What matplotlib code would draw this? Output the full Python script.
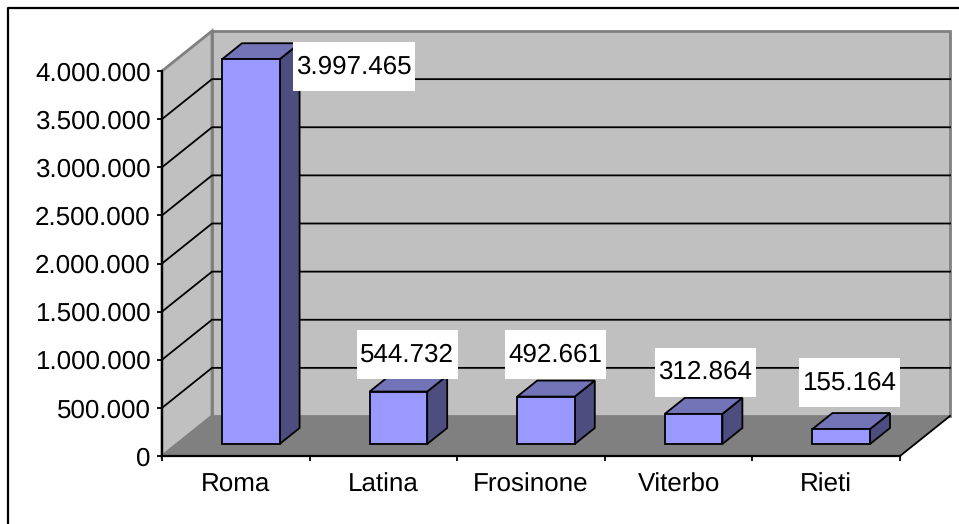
import matplotlib
matplotlib.use('Agg')
import numpy as np
import matplotlib.pyplot as plt
from matplotlib.lines import Line2D
from matplotlib.patches import Polygon, Rectangle

plt.rcParams['font.family'] = ['Liberation Sans', 'DejaVu Sans']
plt.rcParams['text.hinting'] = 'none'
plt.rcParams['text.hinting_factor'] = 1

# Data
provinces = ['Roma', 'Latina', 'Frosinone', 'Viterbo', 'Rieti']
population = [3997465, 544732, 492661, 312864, 155164]
value_labels = ['3.997.465', '544.732', '492.661', '312.864', '155.164']
y_ticks = [0, 500000, 1000000, 1500000, 2000000, 2500000, 3000000, 3500000, 4000000]
y_labels = ['0', '500.000', '1.000.000', '1.500.000', '2.000.000', '2.500.000', '3.000.000', '3.500.000', '4.000.000']

# Label offsets from the top centre of each bar and box widths, in pixels
label_dx = [103.5, 9, 9.5, 11.5, 8]
label_dy = [-7.3, 37, 42, 41.5, 46.5]
box_widths = [122, 101, 101, 101, 101]

W, H = 959, 524
fig = plt.figure(figsize=(W / 100, H / 100), dpi=100)
ax = fig.add_axes([162 / W, (H - 456) / H, (900 - 162) / W, 385 / H])
ax.set_xlim(0, 5)
ax.set_ylim(0, 4000000)

# Pixel sizes in data units, and the depth of the 3D box
PX = 5 / 738
PY = 4000000 / 385
DX = 50 * PX
DY = 40 * PY
GRAY = '#808080'
FONT = 18.6


def add_poly(points, color, edge='none', lw=0, z=1):
    ax.add_patch(Polygon(points, closed=True, facecolor=color, edgecolor=edge,
                         linewidth=lw, clip_on=False, zorder=z, joinstyle='miter'))


# Walls and floor
add_poly([(DX, DY), (5 + DX, DY), (5 + DX, 4000000 + DY), (DX, 4000000 + DY)], '#C0C0C0', GRAY, 2, 1)
add_poly([(0, 0), (DX, DY), (DX, 4000000 + DY), (0, 4000000)], '#C0C0C0', GRAY, 2, 1)
add_poly([(0, 0), (5, 0), (5 + DX, DY), (DX, DY)], GRAY, z=1.5)

# Gridlines
for t in y_ticks[1:-1]:
    ax.plot([0, DX, 5 + DX], [t, t + DY, t + DY], color='black', lw=1.3, clip_on=False, zorder=2)
ax.plot([5, 5 + DX], [0, DY], color='black', lw=1.3, clip_on=False, zorder=2)

# Bars: front through ax.bar, side and top as polygons
x = np.arange(len(provinces)) + 0.5
vals = np.array(population)
width = 0.39
front_x = x + 0.3 * DX
base = 0.3 * DY
bar_dx = 20 * PX
bar_dy = 16 * PY
ax.bar(front_x, vals, width=width, bottom=base, color='#9999FF', edgecolor='black',
       linewidth=1.3, zorder=4, clip_on=False)
for cx, v in zip(front_x, vals):
    l, r = cx - width / 2, cx + width / 2
    t = base + v
    add_poly([(r, base), (r + bar_dx, base + bar_dy), (r + bar_dx, t + bar_dy), (r, t)], '#4D4D80', 'black', 1.3, 3)
    add_poly([(l, t), (r, t), (r + bar_dx, t + bar_dy), (l + bar_dx, t + bar_dy)], '#7373B8', 'black', 1.3, 3)

# Value labels on white boxes
box_h = 49 * PY
for cx, v, s, dx, dy, bw in zip(front_x, vals, value_labels, label_dx, label_dy, box_widths):
    lx = cx + dx * PX
    ly = base + v + dy * PY
    ax.add_patch(Rectangle((lx - bw * PX / 2, ly - box_h / 2), bw * PX, box_h,
                           facecolor='white', edgecolor='none', clip_on=False, zorder=5))
    ax.text(lx, ly, s, ha='center', va='center', fontsize=FONT, color='black', zorder=6, clip_on=False)

# Axes
ax.patch.set_visible(False)
for side in ['top', 'right']:
    ax.spines[side].set_visible(False)
for side in ['left', 'bottom']:
    ax.spines[side].set_linewidth(1.6)
    ax.spines[side].set_zorder(7)
ax.set_yticks(y_ticks)
ax.set_yticklabels(y_labels, fontsize=FONT)
ax.set_xticks(range(6))
ax.set_xticklabels([])
ax.tick_params(axis='both', length=3.6, width=1.3, pad=4.5)
for cx, name in zip(x, provinces):
    ax.annotate(name, (cx, 0), xytext=(0, -29 / 100 * 72), textcoords='offset points',
                ha='center', va='center', fontsize=FONT, annotation_clip=False)

# Outer border, open at right and bottom as in the screenshot
fig.add_artist(Line2D([8 / W, 8 / W, 1], [0, (H - 8) / H, (H - 8) / H], color='black', lw=1.6,
                      transform=fig.transFigure))

fig.savefig('out.png', dpi=100)
